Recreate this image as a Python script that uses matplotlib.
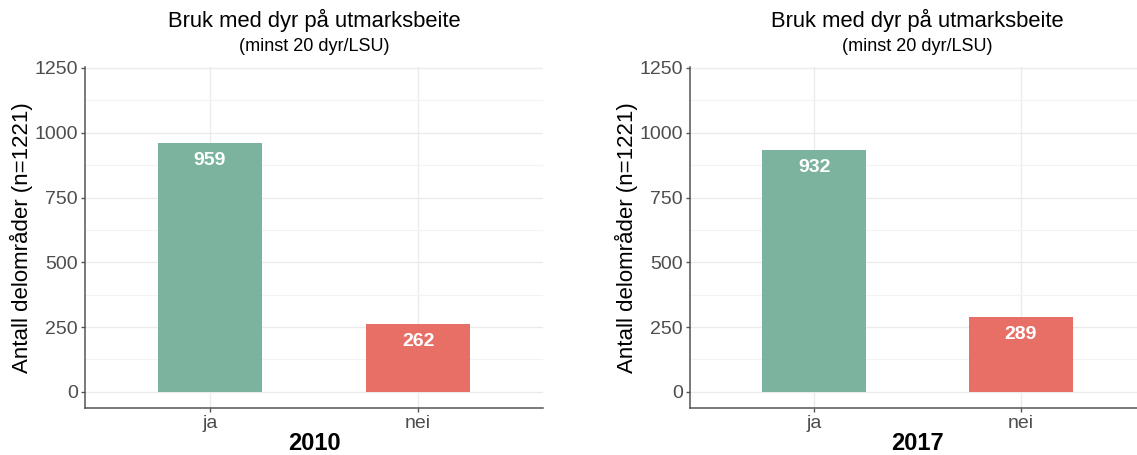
import matplotlib.pyplot as plt
import numpy as np

plt.rcParams['font.family'] = ['Liberation Sans', 'DejaVu Sans']

# data
years = ["2010", "2017"]
categories = ["ja", "nei"]
counts_2010 = [959, 262]
counts_2017 = [932, 289]
bar_colors = ["#7BB39E", "#E86F66"]

title = "Bruk med dyr på utmarksbeite"
subtitle = "(minst 20 dyr/LSU)"
ylabel = "Antall delområder (n=1221)"
yticks = [0, 250, 500, 750, 1000, 1250]

fig = plt.figure(figsize=(11.37, 4.55), dpi=100)

# axes boxes in figure fractions (left, bottom, width, height)
boxes = [[0.0748, 0.1033, 0.4028, 0.7501],
         [0.6069, 0.1033, 0.4002, 0.7501]]

for box, year, counts in zip(boxes, years, [counts_2010, counts_2017]):
    ax = fig.add_axes(box)
    x = np.arange(1, len(categories) + 1)
    ax.bar(x, counts, width=0.5, color=bar_colors, zorder=2)

    for xi, v in zip(x, counts):
        ax.annotate(str(v), (xi, v), xytext=(0, -12.5), textcoords="offset points",
                    ha="center", va="center", color="white", fontsize=14,
                    fontweight="bold", zorder=3)

    ax.set_xlim(0.4, 2.6)
    ax.set_ylim(-62.5, 1255)
    ax.set_xticks(x)
    ax.set_xticklabels(categories)
    ax.set_yticks(yticks)
    ax.set_yticks([125, 375, 625, 875, 1125], minor=True)

    ax.grid(True, which="major", color="#EBEBEB", linewidth=1.0, zorder=0)
    ax.grid(True, which="minor", axis="y", color="#F3F3F3", linewidth=0.8, zorder=0)
    ax.set_axisbelow(True)

    for s in ["top", "right"]:
        ax.spines[s].set_visible(False)
    for s in ["left", "bottom"]:
        ax.spines[s].set_color("#555555")
        ax.spines[s].set_linewidth(1.1)

    ax.tick_params(axis="both", which="major", labelsize=14, labelcolor="#4D4D4D",
                   color="#555555", length=3, width=1.0, pad=2)
    ax.tick_params(axis="y", which="minor", length=0)

    ax.set_ylabel(ylabel, fontsize=16, color="black", labelpad=1)
    ax.set_xlabel(year, fontsize=17, fontweight="bold", color="black", labelpad=0)

    cx = box[0] + box[2] / 2
    fig.text(cx, 0.954, title, ha="center", va="center", fontsize=15.8)
    fig.text(cx, 0.897, subtitle, ha="center", va="center", fontsize=13)

fig.savefig("out.png", dpi=100)
